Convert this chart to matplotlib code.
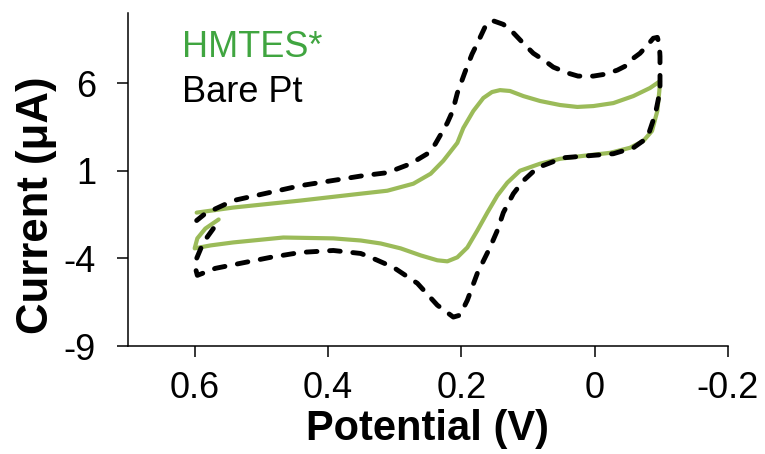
import matplotlib
matplotlib.use('Agg')
import matplotlib.pyplot as plt

plt.rcParams['font.family'] = ['Liberation Sans', 'DejaVu Sans']
plt.rcParams['axes.unicode_minus'] = False

# HMTES* (green trace), potential in V, current in uA
hmtes_v = [0.564, 0.584, 0.596, 0.600, 0.576, 0.542, 0.467, 0.392, 0.351, 0.321, 0.291,
           0.261, 0.236, 0.221, 0.206, 0.191, 0.176, 0.161, 0.146, 0.131, 0.112, 0.082,
           0.052, 0.017, -0.023, -0.053, -0.073, -0.086, -0.094, -0.097, -0.098,
           -0.083, -0.058, -0.028, 0.002, 0.026, 0.052, 0.082, 0.107, 0.127, 0.142,
           0.154, 0.167, 0.182, 0.197, 0.206, 0.227, 0.246, 0.272, 0.311, 0.351,
           0.441, 0.542, 0.597]
hmtes_i = [-1.78, -2.30, -2.86, -3.43, -3.26, -3.09, -2.81, -2.86, -2.98, -3.15, -3.43,
           -3.83, -4.11, -4.17, -3.94, -3.38, -2.41, -1.39, -0.42, 0.32, 1.00, 1.40,
           1.68, 1.85, 2.02, 2.31, 2.70, 3.27, 4.41, 5.55, 6.11,
           5.72, 5.26, 4.86, 4.69, 4.64, 4.75, 4.98, 5.26, 5.55, 5.60,
           5.49, 5.15, 4.41, 3.44, 2.59, 1.57, 0.83, 0.26, -0.14, -0.31,
           -0.70, -1.10, -1.39]

# Bare Pt (black dashed trace)
bare_v = [0.572, 0.587, 0.597, 0.598, 0.596, 0.569, 0.531, 0.486, 0.441, 0.392, 0.351,
          0.336, 0.302, 0.266, 0.236, 0.212, 0.202, 0.191, 0.176, 0.157, 0.146, 0.137,
          0.122, 0.107, 0.086, 0.047, 0.011, -0.028, -0.058, -0.079, -0.091, -0.098,
          -0.098, -0.098, -0.097, -0.094, -0.088, -0.079, -0.068, -0.058, -0.046,
          -0.034, -0.016, 0.002, 0.025, 0.040, 0.062, 0.074, 0.092, 0.107, 0.124,
          0.137, 0.154, 0.164, 0.176, 0.184, 0.194, 0.206, 0.213, 0.221, 0.239,
          0.251, 0.276, 0.311, 0.347, 0.441, 0.542, 0.584, 0.597]
bare_i = [-2.30, -3.09, -4.00, -4.68, -4.97, -4.57, -4.28, -3.94, -3.66, -3.55, -3.72,
          -3.94, -4.51, -5.42, -6.67, -7.35, -7.24, -6.39, -4.85, -3.38, -2.41, -1.39,
          -0.31, 0.43, 1.17, 1.74, 1.85, 1.97, 2.31, 2.88, 4.24, 5.55,
          6.51, 7.53, 8.22, 8.61, 8.56, 8.16, 7.70, 7.42, 6.97,
          6.74, 6.51, 6.40, 6.40, 6.57, 6.91, 7.25, 7.70, 8.27, 8.95,
          9.35, 9.58, 9.24, 8.27, 7.65, 6.68, 5.43, 4.41, 3.73, 2.53,
          1.97, 1.40, 0.89, 0.72, 0.15, -0.70, -1.44, -1.84]

x_ticks = [0.6, 0.4, 0.2, 0, -0.2]
x_labels = ['0.6', '0.4', '0.2', '0', '-0.2']
y_ticks = [6, 1, -4, -9]

fig = plt.figure(figsize=(7.65, 4.54), dpi=100)
ax = fig.add_axes([128 / 765, 1 - 346 / 454, 600 / 765, 333 / 454])

ax.plot(hmtes_v, hmtes_i, color='#9BBB59', lw=3, solid_capstyle='round',
        solid_joinstyle='round')
ax.plot(bare_v, bare_i, color='black', lw=3.5, dashes=(2.2, 2.6),
        dash_capstyle='round', dash_joinstyle='round')

ax.set_xlim(0.7, -0.2)
ax.set_ylim(-9, 10)
ax.set_xticks(x_ticks)
ax.set_xticklabels(x_labels)
ax.set_yticks(y_ticks)

for s in ['top', 'right']:
    ax.spines[s].set_visible(False)
for s in ['left', 'bottom']:
    ax.spines[s].set_linewidth(1.1)

ax.tick_params(axis='both', direction='out', length=8, width=1.1, labelsize=26)
ax.tick_params(axis='x', pad=10)
ax.tick_params(axis='y', pad=15)

ax.set_xlabel('Potential (V)', fontsize=30, fontweight='bold')
ax.set_ylabel('Current (μA)', fontsize=31.5, fontweight='bold')
ax.xaxis.set_label_coords(0.5, -0.19)
ax.xaxis.label.set_va('top')
ax.yaxis.label.set_va('top')
ax.yaxis.set_label_coords(-0.186, 0.423)

ax.text(0.09, 0.868, 'HMTES*', transform=ax.transAxes, fontsize=26,
        color='#40A540', va='baseline')
ax.text(0.09, 0.733, 'Bare Pt', transform=ax.transAxes, fontsize=26,
        color='black', va='baseline')

fig.savefig('out.png', dpi=100)
